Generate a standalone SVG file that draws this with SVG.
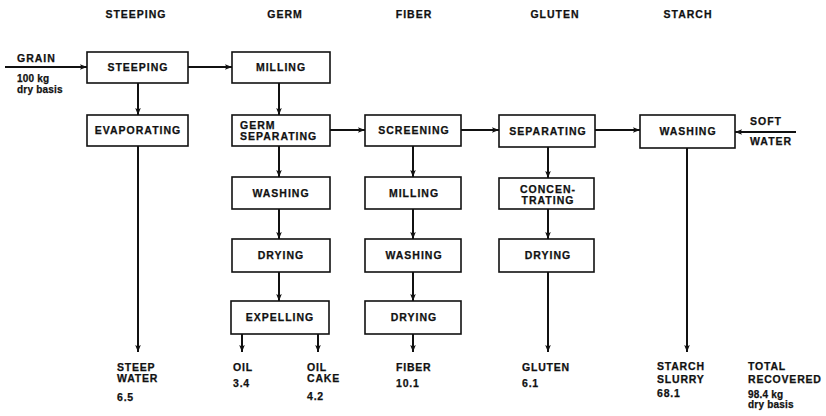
<svg xmlns="http://www.w3.org/2000/svg" width="826" height="416" viewBox="0 0 826 416">
<defs>
<style>
text{font-family:"Liberation Sans",Arial,sans-serif;font-weight:bold;fill:#111;stroke:#111;stroke-width:0.25;}
.h{font-size:10.5px;letter-spacing:1px;text-anchor:middle;}
.b{font-size:10.5px;letter-spacing:1px;text-anchor:middle;}
.bl{font-size:10.5px;letter-spacing:1px;}
.l{font-size:10.5px;letter-spacing:0.8px;}
.s{font-size:10px;letter-spacing:0.2px;}
rect{fill:#fff;stroke:#111;stroke-width:1.6;}
.c path{fill:none;stroke:#111;stroke-width:2;marker-end:url(#ah);}
</style>
<marker id="ah" viewBox="0 0 10 10" refX="10" refY="5" markerWidth="7" markerHeight="7" markerUnits="userSpaceOnUse" orient="auto">
<path d="M0,1 L10,5 L0,9 L2,5 z" fill="#111"/>
</marker>
</defs>
<rect x="0" y="0" width="826" height="416" style="fill:#fff;stroke:none"/>
<g id="headers">
<text class="h" x="136" y="18">STEEPING</text>
<text class="h" x="285" y="18">GERM</text>
<text class="h" x="414" y="18">FIBER</text>
<text class="h" x="555" y="18">GLUTEN</text>
<text class="h" x="688" y="18">STARCH</text>
</g>
<g class="c" id="connectors">
<path d="M5,67 H87"/>
<path d="M188,67 H232"/>
<path d="M138,83 V115"/>
<path d="M138,146 V352"/>
<path d="M279,83 V115"/>
<path d="M279,146 V177"/>
<path d="M279,209 V239"/>
<path d="M279,272 V301"/>
<path d="M242,334 V352"/>
<path d="M318,334 V352"/>
<path d="M330,130 H365"/>
<path d="M413,146 V177"/>
<path d="M413,209 V239"/>
<path d="M413,272 V301"/>
<path d="M413,334 V352"/>
<path d="M461,130 H499"/>
<path d="M548,147 V178"/>
<path d="M548,209 V239"/>
<path d="M548,272 V352"/>
<path d="M595,130 H640"/>
<path d="M687,148 V352"/>
<path d="M796,132 H735"/>
</g>
<g id="grain">
<text class="bl" x="17" y="62">GRAIN</text>
<text class="s" x="17" y="82">100 kg</text>
<text class="s" x="17" y="93">dry basis</text>
</g>
<g id="steeping"><rect x="87" y="52" width="101" height="31"/><text class="b" x="138" y="71">STEEPING</text></g>
<g id="evaporating"><rect x="87" y="115" width="101" height="31"/><text class="b" x="138" y="134">EVAPORATING</text></g>
<g id="germ-milling"><rect x="232" y="52" width="98" height="31"/><text class="b" x="281" y="71">MILLING</text></g>
<g id="germ-separating"><rect x="232" y="115" width="98" height="31"/><text class="bl" x="240" y="129">GERM</text><text class="bl" x="240" y="140">SEPARATING</text></g>
<g id="germ-washing"><rect x="232" y="177" width="98" height="32"/><text class="b" x="281" y="197">WASHING</text></g>
<g id="germ-drying"><rect x="232" y="239" width="98" height="33"/><text class="b" x="281" y="259">DRYING</text></g>
<g id="expelling"><rect x="231" y="301" width="98" height="33"/><text class="b" x="280" y="321">EXPELLING</text></g>
<g id="screening"><rect x="365" y="115" width="96" height="31"/><text class="b" x="414" y="134">SCREENING</text></g>
<g id="fiber-milling"><rect x="365" y="177" width="96" height="32"/><text class="b" x="414" y="197">MILLING</text></g>
<g id="fiber-washing"><rect x="365" y="239" width="96" height="33"/><text class="b" x="414" y="259">WASHING</text></g>
<g id="fiber-drying"><rect x="365" y="301" width="96" height="33"/><text class="b" x="414" y="321">DRYING</text></g>
<g id="separating"><rect x="499" y="115" width="96" height="32"/><text class="b" x="548" y="135">SEPARATING</text></g>
<g id="concentrating"><rect x="499" y="178" width="95" height="31"/><text class="b" x="548" y="193">CONCEN-</text><text class="b" x="548" y="204">TRATING</text></g>
<g id="gluten-drying"><rect x="499" y="239" width="95" height="33"/><text class="b" x="548" y="259">DRYING</text></g>
<g id="starch-washing"><rect x="640" y="115" width="95" height="33"/><text class="b" x="688" y="135">WASHING</text></g>
<g id="soft-water">
<text class="bl" x="750" y="125">SOFT</text>
<text class="bl" x="750" y="145">WATER</text>
</g>
<g id="outputs">
<text class="l" x="117" y="371">STEEP</text>
<text class="l" x="117" y="382">WATER</text>
<text class="l" x="117" y="401">6.5</text>
<text class="l" x="233" y="371">OIL</text>
<text class="l" x="233" y="387">3.4</text>
<text class="l" x="307" y="371">OIL</text>
<text class="l" x="307" y="382">CAKE</text>
<text class="l" x="307" y="400">4.2</text>
<text class="l" x="396" y="371">FIBER</text>
<text class="l" x="396" y="387">10.1</text>
<text class="l" x="522" y="371">GLUTEN</text>
<text class="l" x="522" y="387">6.1</text>
<text class="l" x="657" y="370">STARCH</text>
<text class="l" x="657" y="383">SLURRY</text>
<text class="l" x="657" y="397">68.1</text>
<text class="l" x="748" y="370">TOTAL</text>
<text class="l" x="748" y="383">RECOVERED</text>
<text class="s" x="748" y="398">98.4 kg</text>
<text class="s" x="748" y="408">dry basis</text>
</g>
</svg>
